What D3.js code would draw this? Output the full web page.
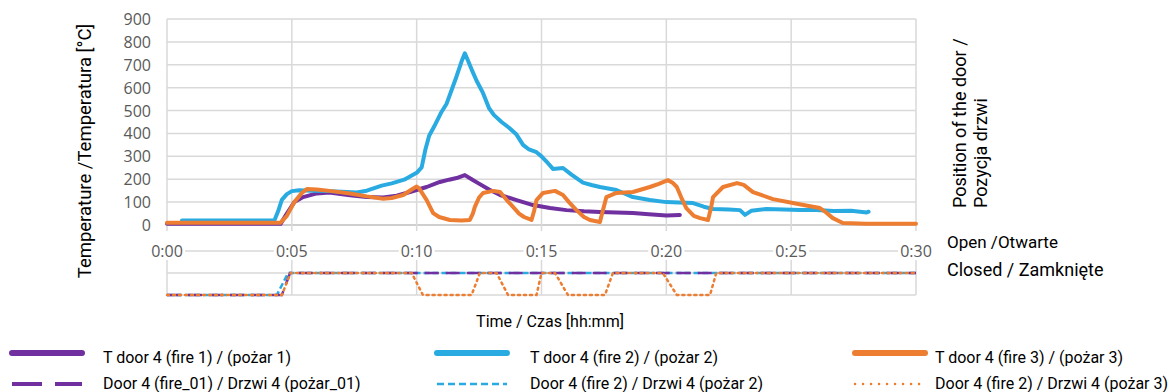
<!DOCTYPE html>
<html lang="en">
<head>
  <meta charset="UTF-8">
  <title>Door temperature</title>
  <style>
    body { margin: 0; background: #fff; font-family: Roboto, sans-serif; }
    svg { display: block; }
  </style>
  <script src="https://cdn.jsdelivr.net/npm/d3@7"></script>
</head>
<body>
<script>
// time in minutes, temperature in °C
var fire1Time = [0, 4.55, 4.8, 5.1, 5.45, 6.0, 6.5, 7.33, 8.0, 8.66, 9.2, 9.73, 10.4, 10.93, 11.3, 11.6, 11.93, 12.2, 12.46, 12.9, 13.34, 14.0, 14.66, 15.34, 16.0, 16.7, 17.34, 18.0, 18.66, 19.3, 20.0, 20.54];
var fire1Temp = [5, 5, 50, 100, 122, 138, 142, 130, 122, 120, 128, 144, 166, 188, 198, 205, 218, 200, 183, 155, 131, 109, 87, 74, 65, 60, 57, 55, 52, 47, 42, 44];

var fire2Time = [0.6, 4.3, 4.45, 4.6, 4.8, 5.0, 5.3, 5.8, 6.5, 7.0, 7.6, 8.0, 8.6, 9.0, 9.5, 10.0, 10.2, 10.35, 10.5, 10.7, 11.0, 11.2, 11.4, 11.6, 11.8, 11.93, 12.05, 12.2, 12.4, 12.66, 12.9, 13.1, 13.4, 13.7, 14.0, 14.26, 14.5, 14.8, 15.0, 15.26, 15.46, 15.86, 16.2, 16.66, 17.0, 17.34, 18.0, 18.66, 19.34, 20.0, 20.5, 21.07, 21.5, 21.87, 22.5, 22.95, 23.15, 23.4, 24.0, 24.7, 25.35, 26.0, 26.7, 27.4, 28.03, 28.1];
var fire2Temp = [20, 20, 60, 110, 135, 148, 152, 150, 148, 145, 142, 150, 172, 182, 198, 228, 252, 330, 390, 430, 495, 530, 590, 650, 715, 750, 720, 680, 630, 576, 510, 480, 450, 425, 395, 350, 330, 318, 300, 270, 245, 249, 220, 185, 175, 166, 153, 122, 109, 100, 98, 96, 80, 70, 68, 65, 44, 62, 70, 68, 65, 66, 61, 62, 55, 58];

var fire3Time = [0, 4.55, 4.8, 5.1, 5.4, 5.6, 6.0, 6.6, 7.33, 8.0, 8.66, 9.0, 9.46, 9.8, 10.0, 10.1, 10.4, 10.66, 10.9, 11.33, 11.8, 12.13, 12.25, 12.33, 12.5, 12.66, 13.06, 13.34, 13.6, 13.86, 14.1, 14.3, 14.6, 14.7, 14.8, 15.06, 15.54, 15.86, 16.1, 16.4, 16.7, 16.94, 17.34, 17.45, 17.6, 18.0, 18.66, 19.34, 19.7, 20.06, 20.25, 20.42, 20.6, 20.8, 21.1, 21.35, 21.67, 21.8, 21.87, 22.27, 22.83, 23.1, 23.47, 24.27, 25.07, 25.6, 26.15, 26.4, 26.67, 27.07, 28, 30];
var fire3Temp = [10, 10, 40, 100, 140, 157, 155, 148, 138, 125, 115, 118, 131, 155, 168, 160, 109, 52, 35, 22, 20, 22, 50, 79, 120, 140, 149, 144, 110, 79, 50, 35, 22, 60, 109, 140, 149, 131, 100, 65, 35, 22, 13, 60, 122, 140, 144, 166, 180, 196, 185, 166, 120, 74, 40, 30, 22, 80, 122, 166, 183, 175, 144, 113, 96, 85, 74, 55, 30, 9, 6, 6];

// door position: 0 = closed, 1 = open
var door1Time = [0, 4.6, 4.93, 30];
var door1Pos = [0, 0, 1, 1];
var door2Time = [0, 4.4, 4.85, 30];
var door2Pos = [0, 0, 1, 1];
var door3Time = [0, 4.6, 4.95, 9.8, 10.25, 12.2, 12.53, 13.2, 13.66, 14.8, 15.0, 15.54, 16.06, 17.54, 17.86, 19.86, 20.42, 21.75, 22.0, 30];
var door3Pos = [0, 0, 1, 1, 0, 0, 1, 1, 0, 0, 1, 1, 0, 0, 1, 1, 0, 0, 1, 1];

var yTicks = [0, 100, 200, 300, 400, 500, 600, 700, 800, 900];
var xTicks = [0, 5, 10, 15, 20, 25, 30];

var tempNames = ["T door 4 (fire 1) / (pożar 1)", "T door 4 (fire 2) / (pożar 2)", "T door 4 (fire 3) / (pożar 3)"];
var doorNames = ["Door 4 (fire_01) / Drzwi 4 (pożar_01)", "Door 4 (fire 2) / Drzwi 4 (pożar 2)", "Door 4 (fire 2) / Drzwi 4 (pożar 3)"];
var colors = ["#7030a0", "#29abe2", "#ed7d31"];
var doorDash = ["14,7", "6,3", "2,4"];

function zip(t, v) { return t.map(function(d, i) { return [d, v[i]]; }); }

var w = 1176, h = 392;
var svg = d3.select("body").append("svg").attr("width", w).attr("height", h);

var x = d3.scaleLinear().domain([0, 30]).range([167, 916]);
var y = d3.scaleLinear().domain([0, 900]).range([225, 19]);
var yd = d3.scaleLinear().domain([0, 2]).range([295, 251]);

var grid = "#d9d9d9";

// main grid
svg.append("g").selectAll("line.h").data(yTicks).enter().append("line")
  .attr("x1", x(0)).attr("x2", x(30))
  .attr("y1", function(d) { return y(d); }).attr("y2", function(d) { return y(d); })
  .attr("stroke", function(d) { return d === 0 ? "#bfbfbf" : grid; })
  .attr("stroke-width", 1.5);
svg.append("g").selectAll("line.v").data(xTicks).enter().append("line")
  .attr("x1", function(d) { return x(d); }).attr("x2", function(d) { return x(d); })
  .attr("y1", y(900)).attr("y2", y(0) + 6)
  .attr("stroke", grid)
  .attr("stroke-width", 1.5);

// door panel grid
svg.append("g").selectAll("line").data([0, 1, 2]).enter().append("line")
  .attr("x1", x(0)).attr("x2", x(30))
  .attr("y1", function(d) { return yd(d); }).attr("y2", function(d) { return yd(d); })
  .attr("stroke", grid).attr("stroke-width", 1.5);
svg.append("g").selectAll("line").data(xTicks).enter().append("line")
  .attr("x1", function(d) { return x(d); }).attr("x2", function(d) { return x(d); })
  .attr("y1", yd(2)).attr("y2", yd(0))
  .attr("stroke", grid).attr("stroke-width", 1.5);

// y tick labels
svg.append("g").selectAll("text").data(yTicks).enter().append("text")
  .attr("x", 151).attr("y", function(d) { return y(d) + 6; })
  .attr("text-anchor", "end")
  .style("font-family", "'Open Sans', sans-serif").style("font-size", "16px")
  .attr("fill", "#595959")
  .text(function(d) { return d; });

// x tick labels with white boxes
var xl = svg.append("g").selectAll("g").data(xTicks).enter().append("g")
  .attr("transform", function(d) { return "translate(" + x(d) + ",251)"; });
xl.append("rect").attr("x", -18).attr("y", -9).attr("width", 36).attr("height", 18).attr("fill", "#fff");
xl.append("text").attr("y", 6).attr("text-anchor", "middle")
  .style("font-family", "'Open Sans', sans-serif").style("font-size", "16px")
  .attr("fill", "#595959")
  .text(function(d) { return "0:" + (d < 10 ? "0" + d : d); });

// door lines
var dLine = d3.line().x(function(d) { return x(d[0]); }).y(function(d) { return yd(d[1]); });
var doors = [zip(door2Time, door2Pos), zip(door1Time, door1Pos), zip(door3Time, door3Pos)];
var dOrder = [1, 0, 2];
doors.forEach(function(d, i) {
  var k = dOrder[i];
  svg.append("path").datum(d).attr("d", dLine)
    .attr("fill", "none").attr("stroke", colors[k]).attr("stroke-width", 2.5)
    .attr("stroke-dasharray", doorDash[k])
    .attr("stroke-linecap", k === 2 ? "round" : "butt");
});

// temperature lines
var tLine = d3.line().x(function(d) { return x(d[0]); }).y(function(d) { return y(d[1]); });
var temps = [zip(fire1Time, fire1Temp), zip(fire2Time, fire2Temp), zip(fire3Time, fire3Temp)];
temps.forEach(function(d, i) {
  svg.append("path").datum(d).attr("d", tLine)
    .attr("fill", "none").attr("stroke", colors[i]).attr("stroke-width", 4)
    .attr("stroke-linejoin", "round").attr("stroke-linecap", "round");
});

// axis titles
svg.append("text")
  .attr("transform", "translate(91,151)rotate(-90)")
  .attr("text-anchor", "middle").style("font-size", "18.5px").attr("fill", "#000")
  .text("Temperature /Temperatura [°C]");
svg.append("text")
  .attr("transform", "translate(966,208)rotate(-90)")
  .style("font-size", "18px").attr("fill", "#000")
  .text("Position of the door /");
svg.append("text")
  .attr("transform", "translate(987,208)rotate(-90)")
  .style("font-size", "18px").attr("fill", "#000")
  .text("Pozycja drzwi");
svg.append("text").attr("x", 947).attr("y", 248)
  .style("font-size", "17px").text("Open /Otwarte");
svg.append("text").attr("x", 947).attr("y", 276)
  .style("font-size", "18px").text("Closed / Zamknięte");
svg.append("text").attr("x", 550).attr("y", 327).attr("text-anchor", "middle")
  .style("font-size", "16px").text("Time / Czas [hh:mm]");

// legend
var lx = [10, 435, 853];
var tx = [103, 530, 935];
var leg = svg.append("g");
[0, 1, 2].forEach(function(i) {
  leg.append("line").attr("x1", lx[i] + 2).attr("x2", lx[i] + 72)
    .attr("y1", 353).attr("y2", 353)
    .attr("stroke", colors[i]).attr("stroke-width", 6).attr("stroke-linecap", "round");
  leg.append("text").attr("x", tx[i]).attr("y", 363)
    .style("font-size", "16px").text(tempNames[i]);
  leg.append("line").attr("x1", lx[i] + 2).attr("x2", lx[i] + 72)
    .attr("y1", 384).attr("y2", 384)
    .attr("stroke", colors[i]).attr("stroke-width", i === 0 ? 4 : 2.5)
    .attr("stroke-dasharray", i === 0 ? "30,13" : (i === 1 ? "7,4" : "0.1,7.9"))
    .attr("stroke-linecap", i === 2 ? "round" : "butt");
  leg.append("text").attr("x", tx[i]).attr("y", 389)
    .style("font-size", "16px").text(doorNames[i]);
});
</script>
</body>
</html>
